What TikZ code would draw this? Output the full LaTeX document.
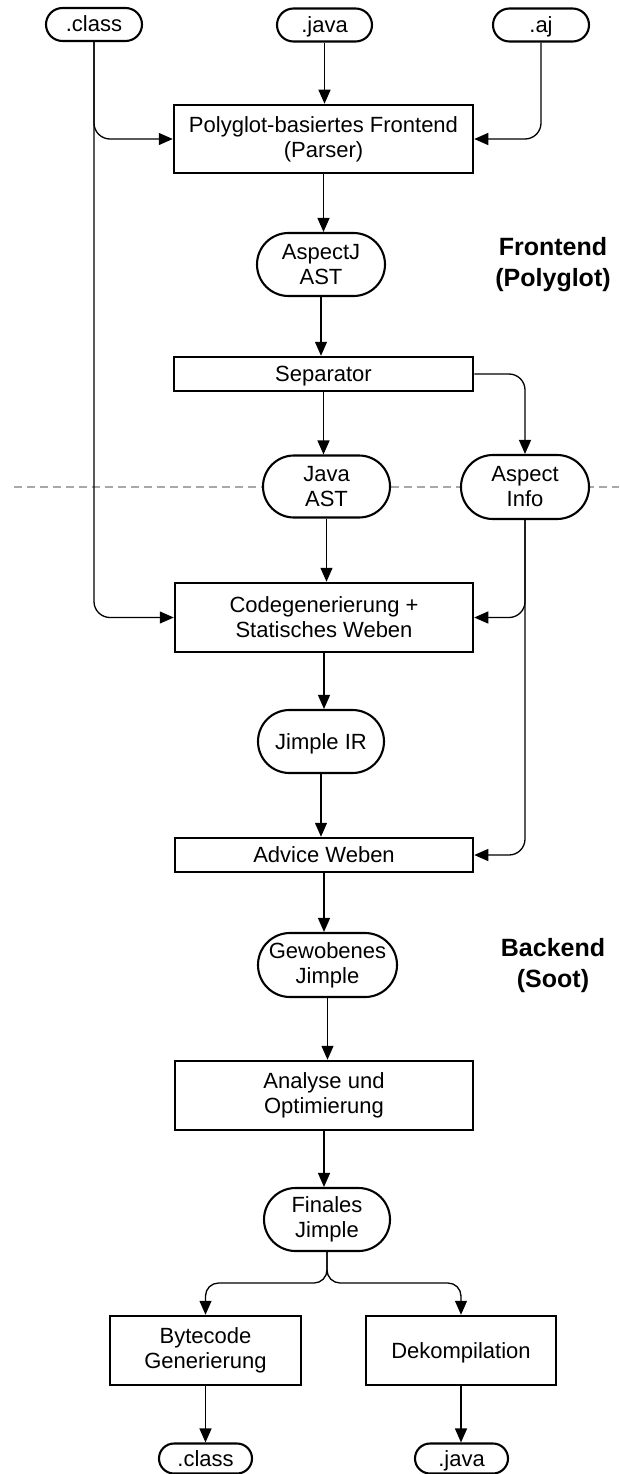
\documentclass[tikz,border=0pt]{standalone}
\usepackage{fontspec}
\setmainfont{Liberation Sans}
\usetikzlibrary{arrows.meta}
\definecolor{dashgray}{HTML}{A8A8A8}
\begin{document}
\begin{tikzpicture}[x=1pt,y=-1pt,
  box/.style={draw, line width=2.5pt, fill=white, inner sep=0pt, font=\fontsize{22}{25}\selectfont},
  pill/.style={draw, line width=2.1pt, fill=white, inner sep=0pt, font=\fontsize{22}{25}\selectfont},
  ml/.style={align=center},
  small/.style={text height=16pt, text depth=1pt},
  conn/.style={line width=1.3pt, -{Triangle[length=14pt,width=12pt]}, rounded corners=16pt},
  lbl/.style={font=\bfseries\fontsize{25}{31}\selectfont, align=center}]
\useasboundingbox (0,0) rectangle (619,1474);
% separator line
\coordinate (dl) at (14,487);
\coordinate (dr) at (619,487);
\draw[dashgray, line width=1.2pt, dash pattern=on 8pt off 5pt] (dl) -- (dr);
% inputs
\node[pill, small, minimum width=96pt, minimum height=33pt, rounded corners=16.5pt] (cls) at (94,24.5) {.class};
\node[pill, small, minimum width=95pt, minimum height=33pt, rounded corners=16.5pt] (jv) at (324.5,25) {.java};
\node[pill, small, minimum width=96pt, minimum height=33pt, rounded corners=16.5pt] (aj) at (541,25) {.aj};
% frontend
\node[box, ml, minimum width=299pt, minimum height=68pt] (poly) at (323.5,139) {Polyglot-basiertes Frontend\\(Parser)};
\node[pill, ml, minimum width=128pt, minimum height=63pt, rounded corners=31.5pt] (aast) at (321,264.5) {AspectJ\\AST};
\node[box, small, minimum width=299pt, minimum height=34pt] (sep) at (323.5,374) {Separator};
\node[pill, ml, minimum width=127pt, minimum height=62pt, rounded corners=31pt] (jast) at (326.5,486.5) {Java\\AST};
\node[pill, ml, minimum width=128pt, minimum height=64pt, rounded corners=32pt] (ainfo) at (525,487) {Aspect\\Info};
\node[lbl] (fe) at (553,265) {Frontend\\(Polyglot)};
% backend
\node[box, ml, minimum width=298pt, minimum height=69pt] (cg) at (324,617.5) {Codegenerierung +\\Statisches Weben};
\node[pill, small, minimum width=126pt, minimum height=63pt, rounded corners=31.5pt] (jir) at (321,741.5) {Jimple IR};
\node[box, small, minimum width=298pt, minimum height=34pt] (adv) at (324,855) {Advice Weben};
\node[pill, ml, minimum width=139pt, minimum height=64pt, rounded corners=32pt] (gew) at (327.5,965) {Gewobenes\\Jimple};
\node[lbl] (be) at (553,966) {Backend\\(Soot)};
\node[box, ml, minimum width=298pt, minimum height=69pt] (ana) at (324,1095.5) {Analyse und\\Optimierung};
\node[pill, ml, minimum width=126pt, minimum height=63pt, rounded corners=31.5pt] (fin) at (327,1219.5) {Finales\\Jimple};
\coordinate (fork) at (327,1283);
\node[box, ml, minimum width=191pt, minimum height=69pt] (byt) at (205.5,1350.5) {Bytecode\\Generierung};
\node[box, small, minimum width=190pt, minimum height=69pt] (dek) at (461,1350.5) {Dekompilation};
\node[pill, small, minimum width=93pt, minimum height=30pt, rounded corners=15pt] (cls2) at (205.5,1458.5) {.class};
\node[pill, small, minimum width=93pt, minimum height=30pt, rounded corners=15pt] (jv2) at (461.5,1458.5) {.java};
% connectors
\draw[conn] (jv.south) -- (jv.south |- poly.north);
\draw[conn] (cls.south) |- (poly.west);
\draw[conn] (aj.south) |- (poly.east);
\draw[conn] (poly.south) -- (poly.south |- aast.north);
\draw[conn] (aast.south) -- (aast.south |- sep.north);
\draw[conn] (sep.south) -- (sep.south |- jast.north);
\draw[conn] (sep.east) -| (ainfo.north);
\draw[conn] (jast.south) -- (jast.south |- cg.north);
\draw[conn] (cls.south) |- (cg.west);
\draw[conn] (ainfo.south) |- (cg.east);
\draw[conn] (ainfo.south) |- (adv.east);
\draw[conn] (cg.south) -- (cg.south |- jir.north);
\draw[conn] (jir.south) -- (jir.south |- adv.north);
\draw[conn] (adv.south) -- (adv.south |- gew.north);
\draw[conn] (gew.south) -- (gew.south |- ana.north);
\draw[conn] (ana.south) -- (ana.south |- fin.north);
\draw[conn, rounded corners=13pt] (fin.south) |- (byt.north |- fork) -- (byt.north);
\draw[conn, rounded corners=13pt] (fin.south) |- (dek.north |- fork) -- (dek.north);
\draw[conn] (byt.south) -- (byt.south |- cls2.north);
\draw[conn] (dek.south) -- (dek.south |- jv2.north);
\end{tikzpicture}
\end{document}
